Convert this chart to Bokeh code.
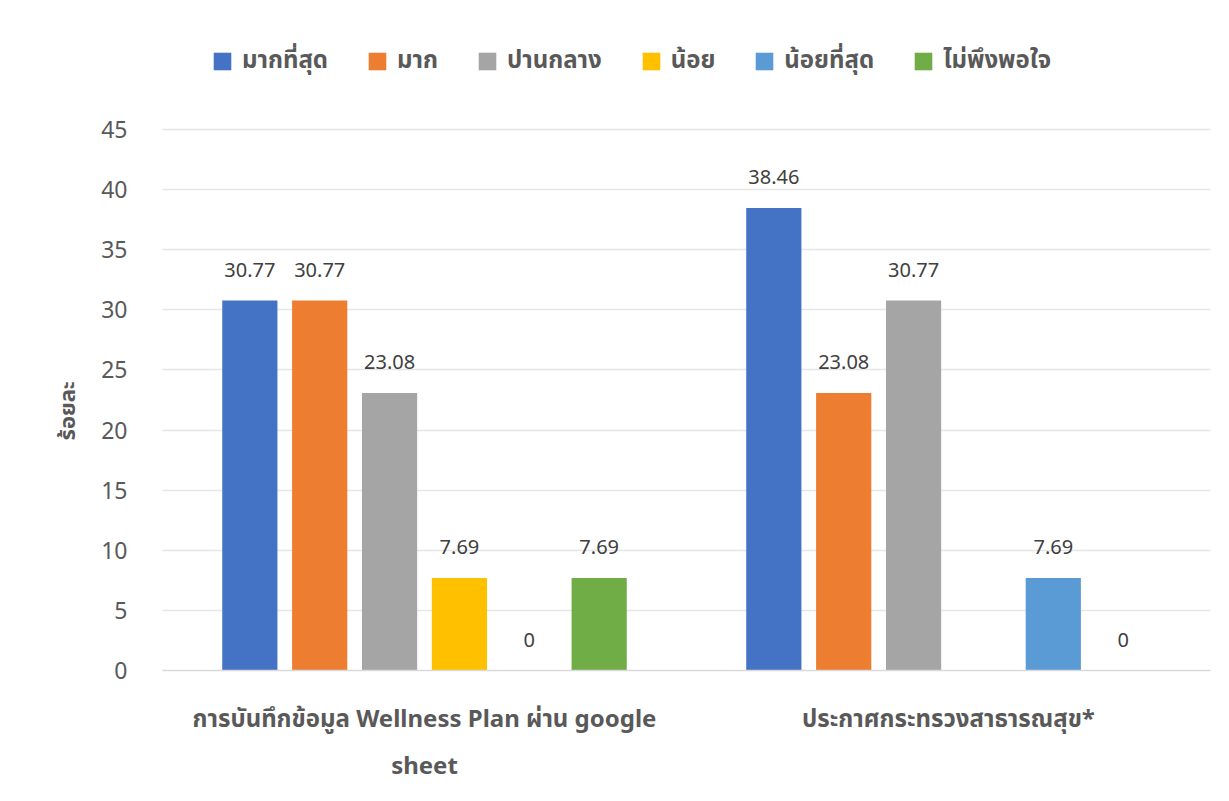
from bokeh.plotting import figure
from bokeh.models import (ColumnDataSource, FactorRange, Range1d, Legend, LegendItem, FixedTicker,
                          CategoricalAxis, CustomJSTickFormatter, Title)
from bokeh.transform import dodge
from bokeh.core.properties import value
from bokeh.embed import file_html
from bokeh.resources import INLINE

categories = ["การบันทึกข้อมูล Wellness Plan ผ่าน google sheet", "ประกาศกระทรวงสาธารณสุข*"]
label_line1 = ["การบันทึกข้อมูล Wellness Plan ผ่าน google", "ประกาศกระทรวงสาธารณสุข*"]
label_line2 = ["sheet", ""]
series_names = ["มากที่สุด", "มาก", "ปานกลาง", "น้อย", "น้อยที่สุด", "ไม่พึงพอใจ"]
v_most = [30.77, 38.46]
v_much = [30.77, 23.08]
v_medium = [23.08, 30.77]
v_little = [7.69, None]
v_least = [0, 7.69]
v_unsat = [7.69, 0]
series_values = [v_most, v_much, v_medium, v_little, v_least, v_unsat]
colors = ["#4472C4", "#ED7D31", "#A5A5A5", "#FFC000", "#5B9BD5", "#70AD47"]
y_ticks = [0, 5, 10, 15, 20, 25, 30, 35, 40, 45]
y_title = "ร้อยละ"

FONT = "'Noto Sans', 'Noto Sans Thai', 'Leelawadee UI', Tahoma, sans-serif"

p = figure(width=1213, height=793, x_range=FactorRange(*categories), y_range=Range1d(0, 55.73),
           output_backend="svg", toolbar_location=None,
           min_border_left=162, min_border_right=3, min_border_top=0, min_border_bottom=123)
p.x_range.range_padding = 0
p.outline_line_color = None
p.background_fill_color = "white"
p.border_fill_color = "white"

n = len(series_names)
slot = 0.8 / n
bw = slot * 0.79
items = []
for i, (name, vals, col) in enumerate(zip(series_names, series_values, colors)):
    xs = [c for c, v in zip(categories, vals) if v is not None]
    ys = [v for v in vals if v is not None]
    labels = ["%g" % v for v in ys]
    src = ColumnDataSource(dict(x=xs, top=ys, label=labels))
    off = (i - (n - 1) / 2) * slot
    r = p.vbar(x=dodge("x", off, range=p.x_range), top="top", bottom=0, width=bw, source=src,
               fill_color=col, line_color=None)
    p.text(x=dodge("x", off, range=p.x_range), y="top", text="label", source=src,
           text_align="center", text_baseline="middle", y_offset=-31,
           text_font=value(FONT), text_font_size="20px", text_font_style="normal", text_color="#404040")
    items.append(LegendItem(label=name, renderers=[r]))

legend = Legend(items=items, orientation="horizontal", location=(49, 591),
                label_text_font=FONT, label_text_font_size="24px", label_text_font_style="bold",
                label_text_color="#595959", glyph_width=22, glyph_height=22, label_height=22,
                label_standoff=9, spacing=38, padding=0, margin=0,
                border_line_color=None, background_fill_alpha=0)
p.add_layout(legend, "center")

# y axis
p.yaxis.ticker = FixedTicker(ticks=y_ticks)
p.yaxis.axis_line_color = None
p.yaxis.major_tick_line_color = None
p.yaxis.minor_tick_line_color = None
p.yaxis.major_label_text_font = FONT
p.yaxis.major_label_text_font_size = "23px"
p.yaxis.major_label_text_font_style = "normal"
p.yaxis.major_label_text_color = "#595959"
p.yaxis.major_label_standoff = 29

ytitle = Title(text=y_title, align="left", offset=230, standoff=36,
               text_font=FONT, text_font_size="22px", text_font_style="bold", text_color="#595959")
p.add_layout(ytitle, "left")

# x axis: two stacked axes carry the two lines of each category label
def style_x(ax, standoff, lines):
    ax.major_tick_line_color = None
    ax.minor_tick_line_color = None
    ax.major_label_text_font = FONT
    ax.major_label_text_font_size = "24px"
    ax.major_label_text_font_style = "bold"
    ax.major_label_text_color = "#595959"
    ax.major_label_standoff = standoff
    ax.formatter = CustomJSTickFormatter(args=dict(m=dict(zip(categories, lines))),
                                         code="return m[tick] ?? '';")

xa = p.xaxis[0]
style_x(xa, 24, label_line1)
xa.axis_line_color = "#D9D9D9"
xa.axis_line_width = 1.5

xb = CategoricalAxis()
style_x(xb, 5, label_line2)
xb.axis_line_color = None
p.add_layout(xb, "below")

p.xgrid.grid_line_color = None
p.ygrid.grid_line_color = "#E6E6E6"
p.ygrid.grid_line_width = 1.5

open("out.html", "w").write(file_html(p, INLINE))
